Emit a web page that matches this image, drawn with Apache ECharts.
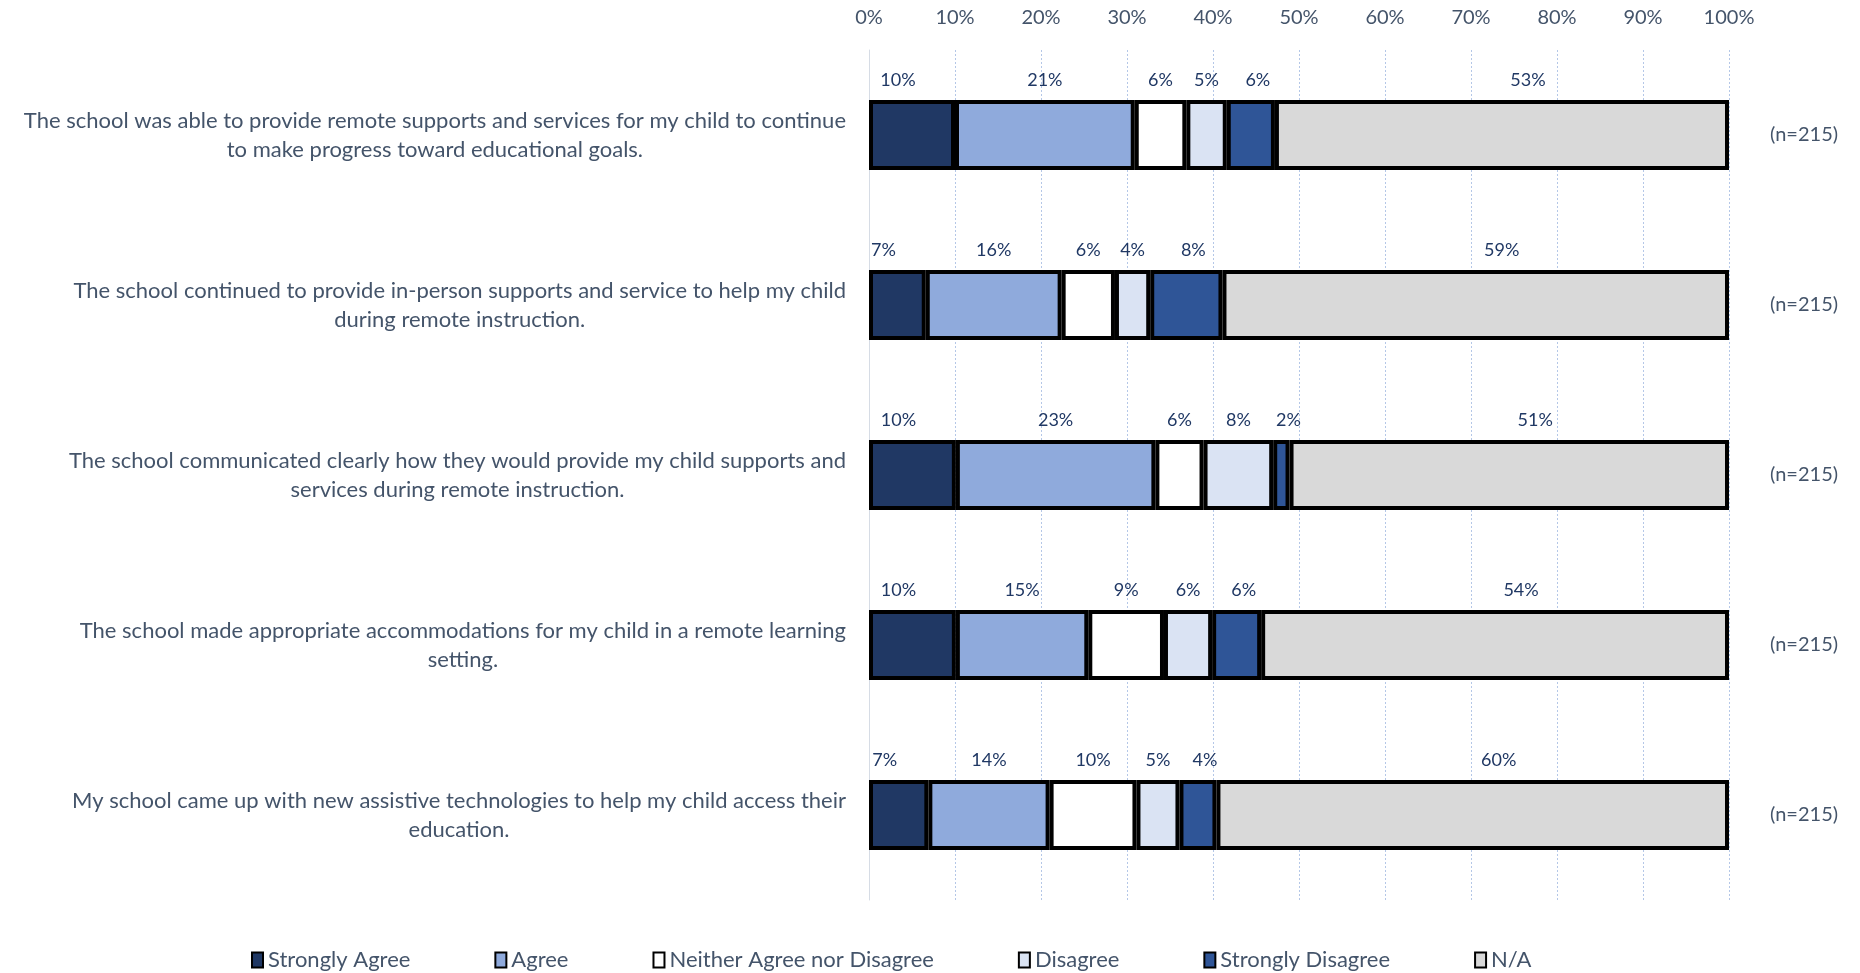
<!DOCTYPE html>
<html lang="en">
<head>
  <meta charset="UTF-8">
  <title>Remote supports survey</title>
  <script src="https://cdn.jsdelivr.net/npm/echarts@6/dist/echarts.min.js"></script>
  <style>
    * { margin: 0; padding: 0; }
    #chart { width: 1860px; height: 973px; background: #fff; }
  </style>
</head>
<body>
  <div id="chart"></div>
<script>
  // questions (top to bottom)
  const questions = [
    'The school was able to provide remote supports and services for my child to continue\nto make progress toward educational goals.',
    'The school continued to provide in-person supports and service to help my child\nduring remote instruction.',
    'The school communicated clearly how they would provide my child supports and\nservices during remote instruction.',
    'The school made appropriate accommodations for my child in a remote learning\nsetting.',
    'My school came up with new assistive technologies to help my child access their\neducation.'
  ];
  const nCounts = [215, 215, 215, 215, 215];

  // answer shares in %, one value per question
  const stronglyAgree    = [10.0,  6.6, 10.1, 10.1,  6.9];
  const agree            = [20.9, 15.8, 23.2, 15.4, 14.1];
  const neither          = [ 6.0,  6.2,  5.6,  8.8, 10.1];
  const disagree         = [ 4.7,  4.1,  8.1,  5.6,  5.0];
  const stronglyDisagree = [ 5.6,  8.4,  1.9,  5.7,  4.3];
  const notApplicable    = [52.8, 58.9, 51.1, 54.4, 59.6];

  const textColor = '#44546a';
  const font = 'Lato';

  var myChart = echarts.init(document.getElementById('chart'));

  function makeSeries(name, data, color, labelOffset) {
    return {
      name: name,
      type: 'bar',
      stack: 'all',
      barWidth: 70,
      data: data,
      itemStyle: { color: color, borderColor: '#000', borderWidth: 4 },
      label: {
        show: true,
        position: 'top',
        distance: 11,
        offset: [labelOffset, 0],
        color: '#203864',
        fontFamily: font,
        fontSize: 18,
        formatter: p => Math.round(p.value) + '%'
      },
      emphasis: { disabled: true }
    };
  }

  var option = {
    animation: false,
    backgroundColor: '#fff',
    grid: { left: 869, right: 131, top: 50, bottom: 73 },
    xAxis: {
      type: 'value',
      position: 'top',
      min: 0,
      max: 100,
      interval: 10,
      axisLine: { show: false },
      axisTick: { show: false },
      axisLabel: {
        formatter: '{value}%',
        color: textColor,
        fontFamily: font,
        fontSize: 20,
        margin: 22
      },
      splitLine: {
        show: true,
        lineStyle: { color: '#b4c7e7', type: [2, 2], width: 1 }
      }
    },
    yAxis: [{
      type: 'category',
      inverse: true,
      data: questions,
      axisLine: { show: true, lineStyle: { color: '#d6dce5', width: 1 } },
      axisTick: { show: false },
      axisLabel: {
        margin: 23,
        align: 'right',
        formatter: v => v.split('\n').map(s => '{c|' + s + '}').join('\n'),
        rich: {
          c: {
            align: 'center',
            color: textColor,
            fontFamily: font,
            fontSize: 22,
            lineHeight: 29
          }
        }
      }
    }, {
      type: 'category',
      inverse: true,
      position: 'right',
      data: nCounts.map(n => '(n=' + n + ')'),
      axisLine: { show: false },
      axisTick: { show: false },
      axisLabel: {
        margin: 41,
        color: textColor,
        fontFamily: font,
        fontSize: 20
      }
    }],
    legend: {
      top: 944,
      left: 246,
      itemGap: 84,
      itemWidth: 11,
      itemHeight: 15,
      icon: 'rect',
      itemStyle: { borderColor: '#000', borderWidth: 2 },
      textStyle: { color: textColor, fontFamily: font, fontSize: 22 },
      selectedMode: false
    },
    series: [
      makeSeries('Strongly Agree', stronglyAgree, '#203864', -14),
      makeSeries('Agree', agree, '#8faadc', 0),
      makeSeries('Neither Agree nor Disagree', neither, '#ffffff', 0),
      makeSeries('Disagree', disagree, '#dae3f3', 0),
      makeSeries('Strongly Disagree', stronglyDisagree, '#2f5597', 7),
      makeSeries('N/A', notApplicable, '#d9d9d9', 26)
    ]
  };

  myChart.setOption(option);
</script>
</body>
</html>
